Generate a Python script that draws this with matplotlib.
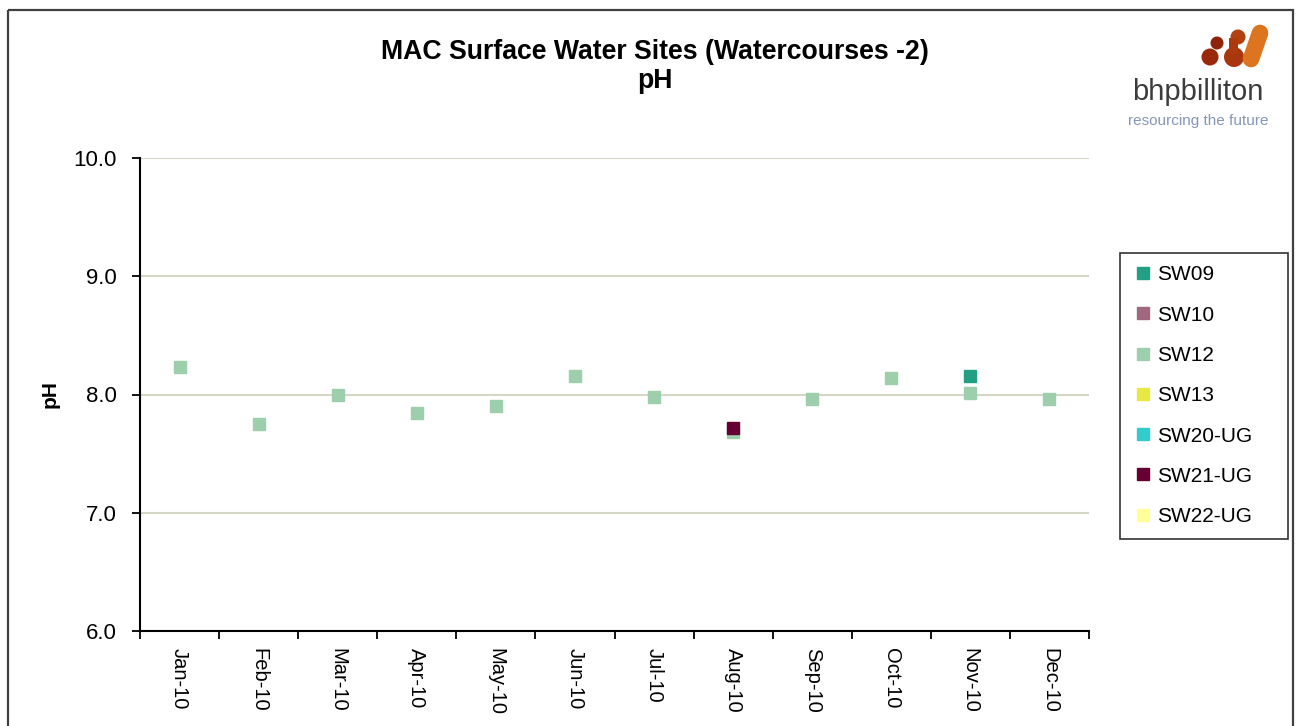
import matplotlib
matplotlib.use("Agg")
import matplotlib.pyplot as plt
from matplotlib.patches import Circle, Rectangle
from matplotlib.lines import Line2D
import numpy as np

plt.rcParams['font.family'] = ['Liberation Sans', 'DejaVu Sans']

# Monthly sampling periods
months = ["Jan-10", "Feb-10", "Mar-10", "Apr-10", "May-10", "Jun-10",
          "Jul-10", "Aug-10", "Sep-10", "Oct-10", "Nov-10", "Dec-10"]

# pH per site (None = no sample)
sw09 = [None, None, None, None, None, None, None, None, None, None, 8.16, None]
sw10 = [None] * 12
sw12 = [8.23, 7.75, 8.00, 7.84, 7.90, 8.16, 7.98, 7.68, 7.96, 8.14, 8.01, 7.96]
sw13 = [None] * 12
sw20_ug = [None] * 12
sw21_ug = [None, None, None, None, None, None, None, 7.72, None, None, None, None]
sw22_ug = [None] * 12

series = [
    ("SW09", sw09, "#23a084"),
    ("SW10", sw10, "#a0687f"),
    ("SW12", sw12, "#9dcfac"),
    ("SW13", sw13, "#e8e845"),
    ("SW20-UG", sw20_ug, "#33cccc"),
    ("SW21-UG", sw21_ug, "#660033"),
    ("SW22-UG", sw22_ug, "#ffff99"),
]
draw_order = ["SW12", "SW09", "SW10", "SW13", "SW20-UG", "SW21-UG", "SW22-UG"]

W, H = 1298, 726
fig = plt.figure(figsize=(W / 100, H / 100), dpi=100)

# Background overlay in pixel coordinates: frame and logo
bg = fig.add_axes([0, 0, 1, 1], zorder=0)
bg.set_xlim(0, W)
bg.set_ylim(H, 0)
bg.axis("off")
bg.add_patch(Rectangle((8, 10), 1285, 730, fill=False, edgecolor="#404040", lw=1.6))

# bhpbilliton logo mark
bg.add_patch(Circle((1217, 43), 6.5, color="#8e220a", lw=0))
bg.add_patch(Circle((1210, 57), 8.5, color="#9a280b", lw=0))
bg.add_patch(Circle((1238, 37), 7.5, color="#b3400f", lw=0))
bg.add_patch(Circle((1234, 57), 10, color="#a9360d", lw=0))
bg.add_patch(Rectangle((1229, 38), 9, 16, color="#ad3a0e", lw=0))
bg.plot([1260, 1251], [33, 59], color="#dd7520", lw=12, solid_capstyle="round")
bg.text(1198, 92, "bhpbilliton", ha="center", va="center", fontsize=21,
        color="#3c3c3c", family=["Liberation Sans Narrow", "Liberation Sans"])
bg.text(1198, 121, "resourcing the future", ha="center", va="center", fontsize=11,
        color="#8497b8", family=["Liberation Sans Narrow", "Liberation Sans"])

# Main plot area
left, right, top, bottom = 140, 1089, 158, 631
ax = fig.add_axes([left / W, 1 - bottom / H, (right - left) / W, (bottom - top) / H], zorder=1)
ax.patch.set_alpha(0)

x = np.arange(len(months))
for name in draw_order:
    label, vals, color = next(s for s in series if s[0] == name)
    xs = [xi for xi, v in zip(x, vals) if v is not None]
    ys = [v for v in vals if v is not None]
    ax.plot(xs, ys, linestyle="none", marker="s", markersize=8,
            color=color, markeredgecolor=color, zorder=3)

ax.set_xlim(-0.5, len(months) - 0.5)
ax.set_ylim(6.0, 10.0)
ax.set_yticks([6.0, 7.0, 8.0, 9.0, 10.0])
ax.set_yticklabels([f"{v:.1f}" for v in [6.0, 7.0, 8.0, 9.0, 10.0]], fontsize=16)
ax.yaxis.grid(True, color="#d6d6c6", lw=1.5, zorder=0)
ax.set_axisbelow(True)

ax.set_xticks(np.arange(-0.5, len(months), 1.0))
ax.set_xticklabels([])
ax.set_xticks(x, minor=True)
ax.set_xticklabels(months, minor=True, rotation=270, fontsize=14.5, va="top", ha="center")
ax.tick_params(axis="x", which="minor", length=0, pad=12)
ax.tick_params(axis="x", which="major", length=6, width=1.3, direction="out")
ax.tick_params(axis="y", length=6, width=1.3, direction="out", pad=11)

for s in ["top", "right"]:
    ax.spines[s].set_visible(False)
for s in ["left", "bottom"]:
    ax.spines[s].set_linewidth(1.5)
    ax.spines[s].set_color("black")

ax.set_ylabel("pH", fontsize=15, fontweight="bold", labelpad=10)

fig.text(655 / W, 1 - 52 / H, "MAC Surface Water Sites (Watercourses -2)",
         ha="center", va="center", fontsize=19.2, fontweight="bold")
fig.text(655 / W, 1 - 81 / H, "pH",
         ha="center", va="center", fontsize=19.2, fontweight="bold")

# Legend
handles = [Line2D([], [], linestyle="none", marker="s", markersize=8,
                  color=c, markeredgecolor=c) for _, _, c in series]
labels = [n for n, _, _ in series]
leg = fig.legend(handles, labels, loc="upper left",
                 bbox_to_anchor=(1120 / W, 1 - 253 / H - 0.01, 168 / W, 0.01),
                 mode="expand", borderaxespad=0, fontsize=15, frameon=True,
                 fancybox=False, edgecolor="black", handlelength=1.0,
                 handletextpad=0.2, labelspacing=1.02, borderpad=0.6)
leg.get_frame().set_linewidth(1.2)

fig.savefig("out.png", dpi=100)
